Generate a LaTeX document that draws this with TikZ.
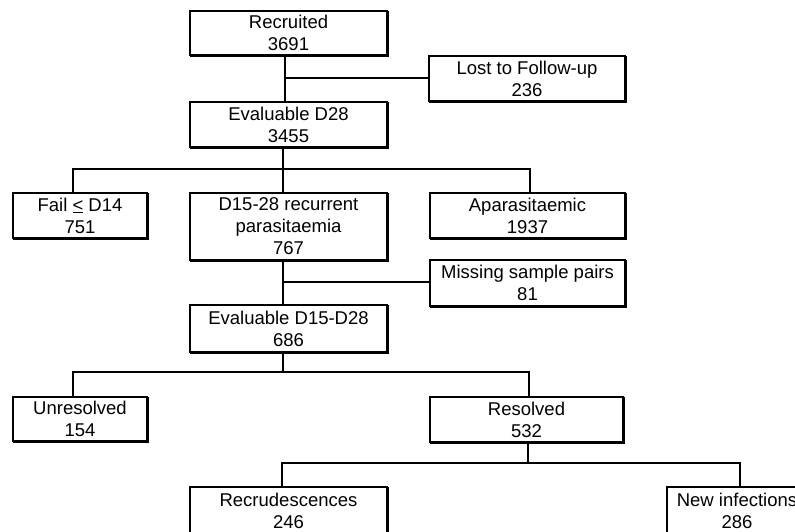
\documentclass[tikz,border=0pt]{standalone}
\usepackage{fontspec}
\setmainfont{Liberation Sans}
\usetikzlibrary{shadows}
\begin{document}
\begin{tikzpicture}[x=1pt,y=-1pt,
  box/.style={draw=black, fill=white, line width=2pt, inner sep=0pt, outer sep=0pt,
    align=center, font=\fontsize{18.5}{22}\selectfont,
    general shadow={shadow xshift=1pt, shadow yshift=-1pt, fill=black, draw=black, line width=2pt}},
  conn/.style={draw=black, line width=1.3pt}]
\useasboundingbox (0,0) rectangle (795,532);
\clip (0,0) rectangle (795,532);
\fill[white] (0,0) rectangle (795,532);

\node[box, minimum width=197, minimum height=44] (rec) at (288.5,33) {Recruited\\3691};
\node[box, minimum width=196, minimum height=45] (lost) at (527,78.5) {Lost to Follow-up\\236};
\node[box, minimum width=197, minimum height=45] (ev28) at (288.5,124.5) {Evaluable D28\\3455};
\node[box, minimum width=134, minimum height=45] (fail) at (80,215.5) {Fail \underline{<} D14\\751};
\node[box, minimum width=197, minimum height=67] (d15) at (288.5,226.5) {D15-28 recurrent\\parasitaemia\\767};
\node[box, minimum width=195, minimum height=45] (apar) at (527.5,215.5) {Aparasitaemic\\1937};
\node[box, minimum width=195, minimum height=46] (miss) at (527.5,283) {Missing sample pairs\\81};
\node[box, minimum width=197, minimum height=47] (ev1528) at (288.5,328.5) {Evaluable D15-D28\\686};
\node[box, minimum width=134, minimum height=44] (unres) at (80,419) {Unresolved\\154};
\node[box, minimum width=193, minimum height=45] (resol) at (526.5,419.5) {Resolved\\532};
\node[box, minimum width=197, minimum height=48] (recru) at (288.5,511) {Recrudescences\\246};
\node[box, minimum width=140, minimum height=48] (newinf) at (737,511) {New infections\\286};

% junction coordinates
\coordinate (j1) at (285,78);
\coordinate (j2) at (283,169);
\coordinate (j3) at (283,282);
\coordinate (j4) at (283,372);
\coordinate (j5) at (528,463);

\draw[conn] (rec.south -| j1) -- (ev28.north -| j1);
\draw[conn] (j1) -- (j1 -| lost.west);

\draw[conn] (ev28.south -| j2) -- (j2);
\draw[conn] (fail.north -| 73,0) |- (j2) -| (apar.north -| 530,0);
\draw[conn] (j2) -- (d15.north -| j2);

\draw[conn] (d15.south -| j3) -- (ev1528.north -| j3);
\draw[conn] (j3) -- (j3 -| miss.west);

\draw[conn] (ev1528.south -| j4) -- (j4);
\draw[conn] (unres.north -| 73,0) |- (j4) -| (resol.north -| 529,0);

\draw[conn] (resol.south -| j5) -- (j5);
\draw[conn] (recru.north -| 282,0) |- (j5) -| (newinf.north -| 740,0);
\end{tikzpicture}
\end{document}
